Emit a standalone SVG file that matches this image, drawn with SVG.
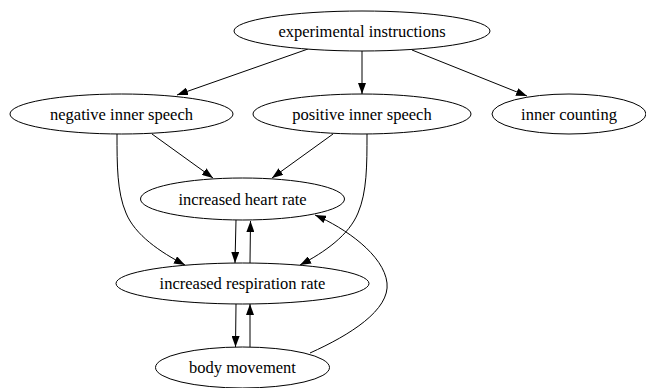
<svg xmlns="http://www.w3.org/2000/svg" width="646" height="388" viewBox="0 0 646 388">
<style>
.n ellipse{fill:#fff;stroke:#000;stroke-width:1}
.n text{font-family:"Liberation Serif","Times New Roman",serif;font-size:16.5px;text-anchor:middle;fill:#000}
.e path{fill:none;stroke:#000;stroke-width:1;marker-end:url(#ah)}
</style>
<defs>
<marker id="ah" markerWidth="11" markerHeight="8" refX="11" refY="4" orient="auto" markerUnits="userSpaceOnUse">
<path d="M0,0 L11,4 L0,8 z" fill="#000"/>
</marker>
</defs>
<rect width="646" height="388" fill="#fff"/>
<g id="connectors" class="e">
<path d="M308,49 L177,95"/>
<path d="M362,51 L362,94"/>
<path d="M412,50 L527,96"/>
<path d="M152,134 L213,178"/>
<path d="M333,134 L272,178"/>
<path d="M117,134 C117,165 117,192 126,213 C135,235 160,252 185,265"/>
<path d="M367,134 C367,165 367,192 358,213 C349,235 325,252 300,265"/>
<path d="M236,220 L235,263"/>
<path d="M250,263 L250.5,221"/>
<path d="M236,304 L235.5,347"/>
<path d="M250,347 L250,304"/>
<path d="M310,353 C350,335 390,310 387,283 C384,255 345,228 315,215"/>
</g>
<g id="exp" class="n"><ellipse cx="362" cy="31" rx="128" ry="20"/><text x="362" y="36.5">experimental instructions</text></g>
<g id="neg" class="n"><ellipse cx="121.5" cy="114" rx="111.5" ry="20"/><text x="121.5" y="119.5">negative inner speech</text></g>
<g id="pos" class="n"><ellipse cx="362" cy="114" rx="109" ry="20"/><text x="362" y="119.5">positive inner speech</text></g>
<g id="cnt" class="n"><ellipse cx="569" cy="114" rx="77" ry="20"/><text x="569" y="119.5">inner counting</text></g>
<g id="heart" class="n"><ellipse cx="242.5" cy="199" rx="102" ry="21"/><text x="242.5" y="204.5">increased heart rate</text></g>
<g id="resp" class="n"><ellipse cx="242.5" cy="283.5" rx="126.5" ry="20.5"/><text x="242.5" y="289">increased respiration rate</text></g>
<g id="body" class="n"><ellipse cx="242.5" cy="367.5" rx="87" ry="20.5"/><text x="242.5" y="373">body movement</text></g>
</svg>
